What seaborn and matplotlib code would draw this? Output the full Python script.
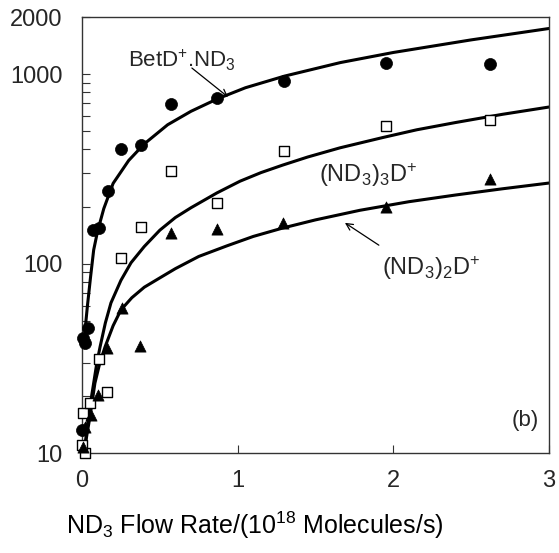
import matplotlib
matplotlib.use("Agg")
import matplotlib.pyplot as plt
import seaborn as sns
import numpy as np
import pandas as pd
from matplotlib.ticker import FixedLocator, NullFormatter, FixedFormatter

sns.set_theme(style="white")
plt.rcParams['font.family'] = ['Liberation Sans', 'DejaVu Sans']
plt.rcParams['mathtext.fontset'] = 'custom'
plt.rcParams['mathtext.rm'] = 'Liberation Sans'
plt.rcParams['mathtext.it'] = 'Liberation Sans:italic'
plt.rcParams['mathtext.bf'] = 'Liberation Sans:bold'

# ---- data ----
bet_x = [0.0, 0.006, 0.02, 0.04, 0.07, 0.11, 0.17, 0.25, 0.38, 0.57, 0.87, 1.30, 1.95, 2.62]
bet_y = [13.2, 40.4, 38.0, 45.7, 150, 154, 241, 402, 422, 695, 747, 918, 1143, 1130]

tri3_x = [0.02, 0.0, 0.006, 0.05, 0.16, 0.11, 0.25, 0.38, 0.57, 0.87, 1.30, 1.95, 2.62]
tri3_y = [10.0, 11.0, 16.3, 18.4, 21.0, 31.2, 107, 156, 308, 209, 392, 532, 572]

di_x = [0.006, 0.02, 0.06, 0.10, 0.16, 0.26, 0.37, 0.57, 0.87, 1.29, 1.95, 2.62]
di_y = [10.8, 13.7, 15.9, 20.2, 35.8, 58.2, 36.7, 145, 152, 164, 199, 279]

# fitted curves
fit_bet_x = [0.019, 0.035, 0.055, 0.075, 0.1, 0.14, 0.2, 0.3, 0.4, 0.55, 0.7, 0.87,
             1.05, 1.3, 1.66, 2.0, 2.5, 3.0]
fit_bet_y = [44, 60, 85, 118, 148, 195, 265, 350, 428, 540, 636, 740,
             847, 975, 1150, 1300, 1515, 1740]

fit_tri_x = [0.019, 0.03, 0.045, 0.071, 0.095, 0.116, 0.15, 0.186, 0.25, 0.315, 0.4,
             0.5, 0.6, 0.7, 0.867, 1.015, 1.15, 1.29, 1.45, 1.657, 1.93, 2.15, 2.4,
             2.7, 3.0]
fit_tri_y = [10.8, 13.0, 16.4, 22.3, 29.8, 36.3, 48.6, 62, 81.5, 101, 123,
             150, 175, 197, 236, 272, 302, 331, 365, 408, 462, 508, 555,
             613, 670]

fit_di_x = [0.019, 0.035, 0.051, 0.083, 0.115, 0.148, 0.2, 0.25, 0.32, 0.4, 0.5, 0.6,
            0.75, 0.931, 1.1, 1.29, 1.5, 1.785, 2.1, 2.4, 2.7, 3.0]
fit_di_y = [10.8, 13.0, 15.5, 23.4, 30, 36.3, 47, 56.9, 66, 75, 84, 94,
            109, 124, 139, 154, 170, 191, 212, 230, 248, 266]

y_ticks = [10, 100, 1000, 2000]
y_tick_labels = ["10", "100", "1000", "2000"]
x_ticks = [0, 1, 2, 3]
x_tick_labels = ["0", "1", "2", "3"]

# ---- figure ----
fig = plt.figure(figsize=(5.59, 5.53), dpi=100)
ax = fig.add_axes([0.1467, 0.1808, 0.8354, 0.7884])

for fx, fy in [(fit_bet_x, fit_bet_y), (fit_tri_x, fit_tri_y), (fit_di_x, fit_di_y)]:
    sns.lineplot(x=fx, y=fy, color='black', linewidth=2.2, estimator=None,
                 sort=False, ax=ax, zorder=2)

sns.scatterplot(x=bet_x, y=bet_y, marker='o', color='black', edgecolor='black',
                s=75, linewidth=0.5, ax=ax, zorder=3, clip_on=False)
sns.scatterplot(x=tri3_x, y=tri3_y, marker='s', color='white', edgecolor='black',
                s=55, linewidth=1.0, ax=ax, zorder=3, clip_on=False)
sns.scatterplot(x=di_x, y=di_y, marker='^', color='black', edgecolor='black',
                s=65, linewidth=0.5, ax=ax, zorder=3, clip_on=False)

ax.set_yscale('log')
ax.set_xlim(0, 3)
ax.set_ylim(10, 2000)

ax.yaxis.set_major_locator(FixedLocator(y_ticks))
ax.yaxis.set_major_formatter(FixedFormatter(y_tick_labels))
minor = [v * m for v in (10, 100) for m in range(2, 10)]
ax.yaxis.set_minor_locator(FixedLocator(minor))
ax.yaxis.set_minor_formatter(NullFormatter())
ax.xaxis.set_major_locator(FixedLocator(x_ticks))
ax.xaxis.set_major_formatter(FixedFormatter(x_tick_labels))

ax.tick_params(axis='y', which='both', direction='in', length=6, width=0.8,
               color='#333333', left=True, right=False, labelsize=17, pad=14)
ax.tick_params(axis='x', which='major', direction='in', length=6, width=0.8,
               color='#333333', bottom=True, top=False, labelsize=17, pad=12)

for sp in ax.spines.values():
    sp.set_color('#333333')
    sp.set_linewidth(1.0)

ax.set_xlabel(r"ND$_3$ Flow Rate/(10$^{18}$ Molecules/s)", fontsize=18, color='black')
ax.xaxis.set_label_coords((255 - 82) / 467, -0.13)
ax.xaxis.label.set_va('top')
ax.set_ylabel("")

# annotations
ax.text(0.295, 1186, r"BetD$^{+}$.ND$_3$", fontsize=16, ha='left', va='center')
ax.annotate("", xy=(0.938, 757), xytext=(0.706, 1076),
            arrowprops=dict(arrowstyle='->', color='black', lw=0.9, shrinkA=0, shrinkB=0,
                            mutation_scale=12))
ax.text(1.522, 293, r"(ND$_3$)$_3$D$^{+}$", fontsize=17, ha='left', va='center')
ax.text(1.927, 94.6, r"(ND$_3$)$_2$D$^{+}$", fontsize=17, ha='left', va='center')
ax.annotate("", xy=(1.689, 164), xytext=(1.907, 125),
            arrowprops=dict(arrowstyle='->', color='black', lw=0.9, shrinkA=0, shrinkB=0,
                            mutation_scale=12))
ax.text(2.845, 14.9, "(b)", fontsize=16, ha='center', va='center')

fig.savefig("out.png", dpi=100)
